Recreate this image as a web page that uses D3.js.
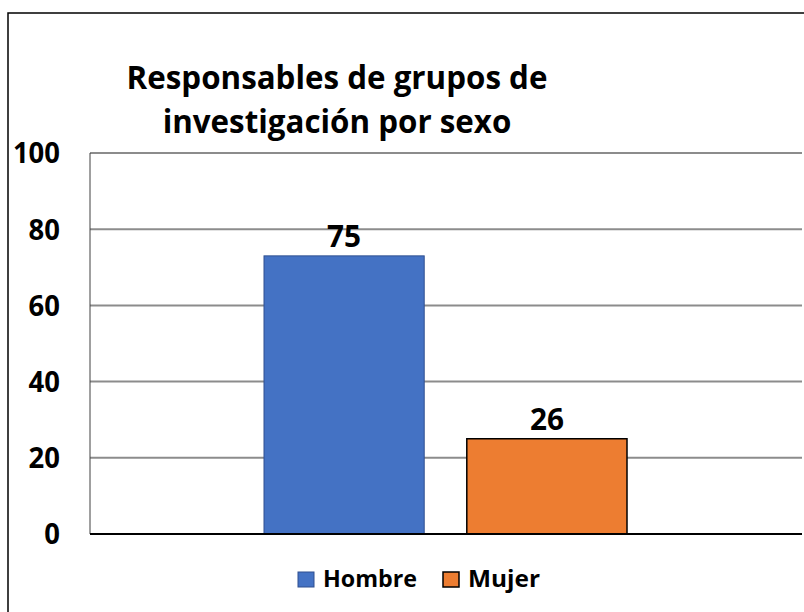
<!DOCTYPE html>
<html>
<head>
<meta charset="utf-8">
<script src="https://cdn.jsdelivr.net/npm/d3@7"></script>
<style>
  body { margin: 0; background: #fff; }
  text { font-family: "Open Sans", "Noto Sans", sans-serif; font-weight: 700; fill: #000; }
</style>
</head>
<body>
<script>
// chart data
var categories = ["Responsables"];
var seriesNames = ["Hombre", "Mujer"];
var seriesValues = [73, 25];        // bar heights as drawn
var valueLabels = ["75", "26"];     // labels printed above bars
var seriesColors = ["#4472c4", "#ed7d31"];
var yTicks = [0, 20, 40, 60, 80, 100];
var titleLines = ["Responsables de grupos de", "investigación por sexo"];

var W = 804, H = 612;
var margin = {top: 153, right: 2, bottom: 78, left: 90};
var width = W - margin.left - margin.right,
    height = H - margin.top - margin.bottom;

var svg = d3.select("body").append("svg")
    .attr("width", W)
    .attr("height", H);

svg.append("rect")
    .attr("x", 8).attr("y", 13)
    .attr("width", W).attr("height", H)
    .attr("fill", "none")
    .attr("stroke", "#000")
    .attr("stroke-width", 1.5);

// title: one size for both lines, squeezed sideways to the width of the original
var titleG = svg.append("g");
var titleTexts = titleG.selectAll(".title")
    .data(titleLines)
    .enter().append("text")
    .attr("class", "title")
    .attr("x", 0)
    .attr("y", (d, i) => i == 0 ? 89 : 133)
    .attr("text-anchor", "middle")
    .style("font-size", "32px")
    .text(d => d);
var natural = titleTexts.nodes()[0].getComputedTextLength();
var squeeze = 421 / natural;
titleG.attr("transform", "translate(337,0) scale(" + squeeze + ",1)");

var g = svg.append("g")
    .attr("transform", "translate(" + margin.left + "," + margin.top + ")");

var y = d3.scaleLinear().domain([0, 100]).range([height, 0]);
var x0 = d3.scaleBand().domain(categories).range([0, width]);
var x1 = d3.scaleBand().domain(seriesNames)
    .range([174, 537]).paddingInner(0.21);

// gridlines
g.selectAll(".grid")
    .data(yTicks.filter(d => d > 0))
    .enter().append("line")
    .attr("x1", 0).attr("x2", width)
    .attr("y1", d => y(d)).attr("y2", d => y(d))
    .attr("stroke", "#8c8c8c")
    .attr("stroke-width", 2);

// left plot edge
g.append("line")
    .attr("x1", 0).attr("x2", 0)
    .attr("y1", 0).attr("y2", height)
    .attr("stroke", "#404040")
    .attr("stroke-width", 1);

// y labels
g.selectAll(".ylab")
    .data(yTicks)
    .enter().append("text")
    .attr("x", -30)
    .attr("y", d => y(d))
    .attr("dy", "0.36em")
    .attr("text-anchor", "end")
    .attr("textLength", d => String(d).length * 15.7)
    .attr("lengthAdjust", "spacingAndGlyphs")
    .style("font-size", "29px")
    .text(d => d);

// bars
g.selectAll(".bar")
    .data(seriesNames)
    .enter().append("rect")
    .attr("x", d => x0(categories[0]) + x1(d))
    .attr("y", (d, i) => y(seriesValues[i]))
    .attr("width", x1.bandwidth())
    .attr("height", (d, i) => height - y(seriesValues[i]))
    .attr("fill", (d, i) => seriesColors[i])
    .attr("stroke", (d, i) => i == 0 ? "#2f4f8f" : "#000")
    .attr("stroke-width", (d, i) => i == 0 ? 1 : 1.5);

g.selectAll(".vlab")
    .data(seriesNames)
    .enter().append("text")
    .attr("x", d => x0(categories[0]) + x1(d) + x1.bandwidth() / 2)
    .attr("y", (d, i) => y(seriesValues[i]) - 9)
    .attr("text-anchor", "middle")
    .attr("textLength", 34)
    .attr("lengthAdjust", "spacingAndGlyphs")
    .style("font-size", "30px")
    .text((d, i) => valueLabels[i]);

// baseline
g.append("line")
    .attr("x1", 0).attr("x2", width)
    .attr("y1", y(0)).attr("y2", y(0))
    .attr("stroke", "#000")
    .attr("stroke-width", 2);

// legend
var legX = [298, 443];
var legW = [94, 72];
var leg = svg.selectAll(".leg")
    .data(seriesNames)
    .enter().append("g")
    .attr("transform", (d, i) => "translate(" + legX[i] + ",572)");
leg.append("rect")
    .attr("width", 16).attr("height", 15)
    .attr("fill", (d, i) => seriesColors[i])
    .attr("stroke", (d, i) => i == 0 ? "#2f4f8f" : "#000")
    .attr("stroke-width", (d, i) => i == 0 ? 1 : 1.5);
leg.append("text")
    .attr("x", 25).attr("y", 15)
    .attr("textLength", (d, i) => legW[i])
    .attr("lengthAdjust", "spacingAndGlyphs")
    .style("font-size", "24px")
    .text(d => d);
</script>
</body>
</html>
